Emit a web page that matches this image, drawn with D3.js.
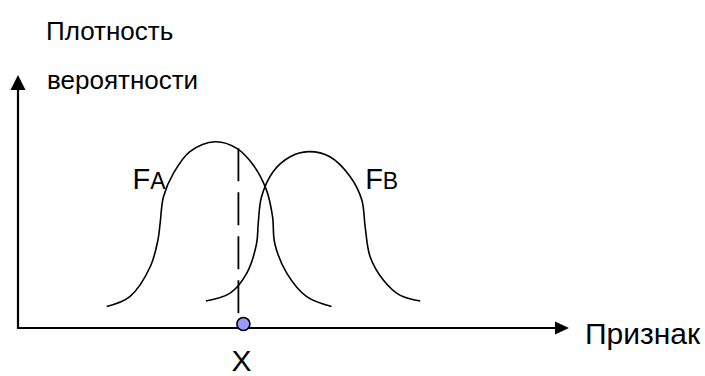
<!DOCTYPE html>
<html>
<head>
<meta charset="utf-8">
<script src="https://cdn.jsdelivr.net/npm/d3@7"></script>
<style>
  html, body { margin: 0; padding: 0; background: #fff; }
  svg { display: block; }
  text { font-family: "Liberation Sans", Arial, sans-serif; fill: #000; }
</style>
</head>
<body>
<svg id="chart" width="705" height="376"></svg>
<script>
// Feature values (x) and probability density (y) for the two class distributions
const curveA = [
  [1.61, 0.085], [2.03, 0.124], [2.40, 0.242], [2.54, 0.348], [2.58, 0.415],
  [2.64, 0.519], [2.82, 0.611], [3.12, 0.697], [3.58, 0.736], [3.97, 0.710],
  [4.27, 0.644], [4.51, 0.545], [4.62, 0.440], [4.66, 0.334], [4.88, 0.216],
  [5.24, 0.124], [5.69, 0.085]
];
const curveB = [
  [3.41, 0.107], [3.85, 0.138], [4.15, 0.216], [4.33, 0.334], [4.36, 0.414],
  [4.42, 0.519], [4.63, 0.618], [4.94, 0.677], [5.27, 0.697], [5.66, 0.677],
  [6.03, 0.598], [6.24, 0.506], [6.30, 0.401], [6.39, 0.282], [6.63, 0.190],
  [6.93, 0.130], [7.30, 0.107]
];
// Decision threshold on the feature axis and the density of A at that point
const thresholdX = 4.0;
const thresholdY = 0.710;

const axisLabels = { y: ["Плотность", "вероятности"], x: "Признак", threshold: "X" };
const curveLabels = [
  { main: "F", sub: "A", x: 2.08, y: 0.550 },
  { main: "F", sub: "B", x: 6.30, y: 0.550 }
];

const svg = d3.select("#chart");

// Axis origin sits at (18, 328); arrow tips at y = 75 and x = 569
const x = d3.scaleLinear().domain([0, 10]).range([18, 569]);
const y = d3.scaleLinear().domain([0, 1]).range([328, 75]);

const line = d3.line()
  .x(d => x(d[0]))
  .y(d => y(d[1]))
  .curve(d3.curveCatmullRom.alpha(0.5));

// Density curves
[curveA, curveB].forEach(pts => {
  svg.append("path")
    .attr("d", line(pts))
    .attr("fill", "none")
    .attr("stroke", "#000")
    .attr("stroke-width", 1.6);
});

// Dashed threshold line from the curve down to the axis marker
svg.append("line")
  .attr("x1", x(thresholdX)).attr("x2", x(thresholdX))
  .attr("y1", y(thresholdY)).attr("y2", y(0) - 9)
  .attr("stroke", "#000")
  .attr("stroke-width", 1.8)
  .attr("stroke-dasharray", "33,11");

// Axes
svg.append("line")
  .attr("x1", x(0)).attr("x2", x(10) - 14)
  .attr("y1", y(0)).attr("y2", y(0))
  .attr("stroke", "#000").attr("stroke-width", 2.2);
svg.append("line")
  .attr("x1", x(0)).attr("x2", x(0))
  .attr("y1", y(0) + 1).attr("y2", y(1) + 15)
  .attr("stroke", "#000").attr("stroke-width", 2.2);

// Arrowheads
svg.append("path")
  .attr("d", `M${x(0)},${y(1)} L${x(0) - 7.5},${y(1) + 15} L${x(0) + 7.5},${y(1) + 15} Z`)
  .attr("fill", "#000");
svg.append("path")
  .attr("d", `M${x(10)},${y(0)} L${x(10) - 14},${y(0) - 6.5} L${x(10) - 14},${y(0) + 6.5} Z`)
  .attr("fill", "#000");

// Threshold marker on the feature axis
svg.append("circle")
  .attr("cx", x(thresholdX) + 5)
  .attr("cy", y(0) - 4)
  .attr("r", 6.5)
  .attr("fill", "#9999ff")
  .attr("stroke", "#000")
  .attr("stroke-width", 1.6);

// Text labels
svg.append("text").attr("x", 46).attr("y", 40).attr("font-size", 26).text(axisLabels.y[0]);
svg.append("text").attr("x", 47).attr("y", 89).attr("font-size", 26).text(axisLabels.y[1]);
svg.append("text").attr("x", 585).attr("y", 344).attr("font-size", 30).text(axisLabels.x);
svg.append("text")
  .attr("x", x(thresholdX) + 3).attr("y", 371)
  .attr("font-size", 30).attr("text-anchor", "middle")
  .text(axisLabels.threshold);

curveLabels.forEach(l => {
  const t = svg.append("text").attr("x", x(l.x)).attr("y", y(l.y)).attr("font-size", 29);
  t.append("tspan").text(l.main);
  t.append("tspan").attr("font-size", 23).text(l.sub);
});
</script>
</body>
</html>
